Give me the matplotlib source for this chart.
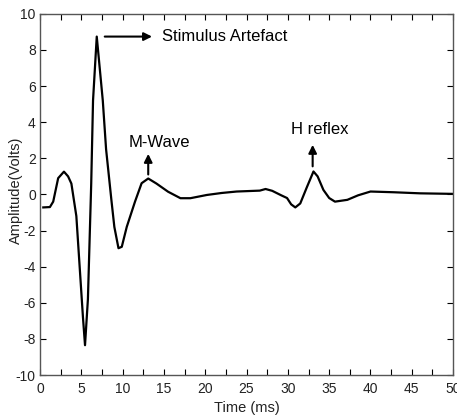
import matplotlib.pyplot as plt
import numpy as np

plt.rcParams['font.family'] = ['Liberation Sans', 'DejaVu Sans']
plt.rcParams['axes.unicode_minus'] = False

# signal
time_ms = [0.4, 1.2, 1.6, 2.2, 2.9, 3.4, 3.8, 4.4, 4.8, 5.2, 5.45, 5.8, 6.2,
           6.42, 6.87, 7.6, 8.0, 8.64, 9.0, 9.5, 9.9, 10.5, 11.5, 12.3, 13.1,
           14.1, 15.5, 17.0, 18.2, 20.2, 22.0, 23.8, 26.6, 27.3, 28.1, 29.2,
           29.9, 30.4, 30.9, 31.5, 32.3, 33.1, 33.6, 34.3, 35.0, 35.7, 37.2,
           38.5, 40.0, 42.8, 46.0, 50.0]
amplitude = [-0.72, -0.70, -0.4, 0.9, 1.26, 1.0, 0.6, -1.2, -4.0, -6.8, -8.35,
             -5.8, 0.6, 5.2, 8.74, 5.2, 2.5, -0.3, -1.8, -2.98, -2.9, -1.8,
             -0.4, 0.62, 0.88, 0.6, 0.15, -0.21, -0.21, -0.03, 0.08, 0.16,
             0.21, 0.3, 0.2, -0.05, -0.2, -0.55, -0.72, -0.5, 0.4, 1.27, 1.0,
             0.25, -0.2, -0.4, -0.3, -0.05, 0.16, 0.12, 0.06, 0.03]

x_ticks = np.arange(0, 50.1, 2.5)
x_labels = [str(int(v)) if v % 5 == 0 else '' for v in x_ticks]
y_ticks = np.arange(-10, 10.1, 2)

fig = plt.figure(figsize=(4.57, 4.19), dpi=100)
ax = fig.add_axes([0.0875, 0.105, 0.904, 0.862])

ax.plot(time_ms, amplitude, color='black', lw=1.6)

ax.set_xlim(0, 50)
ax.set_ylim(-10, 10)
ax.set_xticks(x_ticks)
ax.set_xticklabels(x_labels)
ax.set_yticks(y_ticks)
ax.tick_params(direction='in', length=4, top=True, right=True,
               labelsize=10, pad=3, color='black', labelcolor='#222222')
ax.tick_params(axis='x', pad=5)
for s in ax.spines.values():
    s.set_color('#555555')
    s.set_linewidth(1.0)

ax.set_xlabel('Time (ms)', fontsize=10.5, va='center', color='#222222')
ax.xaxis.set_label_coords(0.5, -0.092)
ax.set_ylabel('Amplitude(Volts)', fontsize=10.5, va='center', color='#222222')
ax.yaxis.set_label_coords(-0.058, 0.51)

arrow = dict(arrowstyle='-|>', color='black', lw=1.5, mutation_scale=12)
ax.annotate('', xy=(13.9, 8.74), xytext=(7.5, 8.74), arrowprops=arrow)
ax.text(14.8, 8.74, 'Stimulus Artefact', fontsize=12, va='center', ha='left')

ax.annotate('', xy=(13.1, 2.4), xytext=(13.1, 0.95), arrowprops=arrow)
ax.text(14.4, 2.85, 'M-Wave', fontsize=12, va='center', ha='center')

ax.annotate('', xy=(33.0, 2.9), xytext=(33.0, 1.4), arrowprops=arrow)
ax.text(33.8, 3.57, 'H reflex', fontsize=12, va='center', ha='center')

fig.savefig('out.png', dpi=100)
